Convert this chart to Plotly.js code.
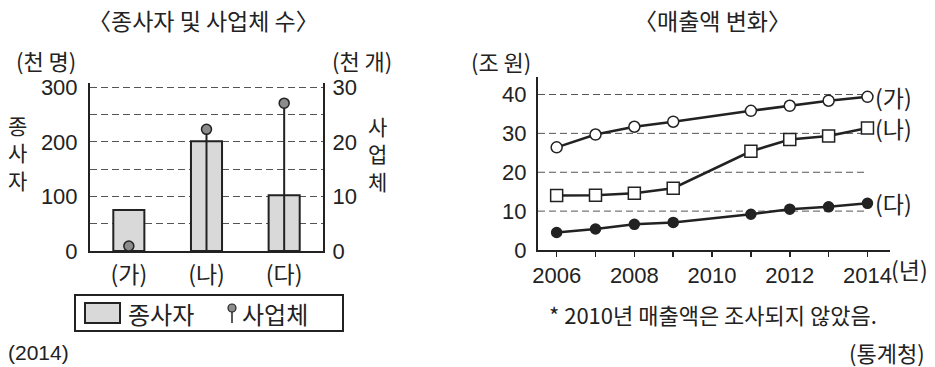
<!DOCTYPE html>
<html>
<head>
<meta charset="utf-8">
<script src="https://cdn.plot.ly/plotly-3.0.1.min.js"></script>
<style>html,body{margin:0;padding:0;background:#fff;}#chart{width:935px;height:367px;}</style>
</head>
<body>
<div id="chart"></div>
<script>
// ---- data ----
const categories = ['(가)', '(나)', '(다)'];
const workers = [75, 201, 102];          // 종사자 (천 명)
const businesses = [0.9, 22.3, 27.1];    // 사업체 (천 개)

const years = [2006, 2007, 2008, 2009, 2011, 2012, 2013, 2014];
const salesGa = [26.4, 29.7, 31.7, 33.0, 35.8, 37.1, 38.4, 39.4];
const salesNa = [14.0, 14.1, 14.6, 15.9, 25.4, 28.4, 29.3, 31.4];
const salesDa = [4.5, 5.4, 6.6, 7.1, 9.2, 10.5, 11.1, 12.0];
const gridValsRight = [10, 20, 30, 40];

// ---- helpers ----
const W = 935, H = 367;
const px = x => x / W;
const py = y => 1 - y / H;
const KFONT = 'Noto Sans CJK KR, sans-serif';
const NFONT = 'Liberation Sans, Arial, Noto Sans CJK KR, sans-serif';
const INK = '#222';
const DASH = '7px,4px';

const traces = [
  {
    type: 'bar', x: categories, y: workers, xaxis: 'x', yaxis: 'y',
    width: 0.4,
    marker: {color: '#d9d9d9', line: {color: INK, width: 2}},
    hoverinfo: 'skip', showlegend: false
  },
  {
    type: 'scatter', mode: 'markers', x: categories, y: businesses, xaxis: 'x', yaxis: 'y2',
    marker: {size: 10, color: '#8c8c8c', line: {color: INK, width: 1.5}},
    error_y: {type: 'data', symmetric: false, array: businesses.map(() => 0),
              arrayminus: businesses, width: 0, thickness: 2, color: INK},
    hoverinfo: 'skip', showlegend: false
  }
];

const seriesDefs = [
  {vals: salesGa, symbol: 'circle', size: 11, fill: '#fff'},
  {vals: salesNa, symbol: 'square', size: 12, fill: '#fff'},
  {vals: salesDa, symbol: 'circle', size: 10, fill: INK}
];
seriesDefs.forEach(s => traces.push({
  type: 'scatter', mode: 'lines+markers', x: years, y: s.vals, xaxis: 'x2', yaxis: 'y3',
  line: {color: INK, width: 2.5},
  marker: {symbol: s.symbol, size: s.size, color: s.fill, line: {color: INK, width: 1.5}},
  hoverinfo: 'skip', showlegend: false
}));

const annotations = [];
const shapes = [];
function txt(text, x, y, size, opts) {
  annotations.push(Object.assign({
    text: text, x: px(x), y: py(y), xref: 'paper', yref: 'paper',
    showarrow: false, font: {family: KFONT, size: size, color: INK},
    xanchor: 'center', yanchor: 'middle'
  }, opts || {}));
}

// titles
txt('〈종사자 및 사업체 수〉', 203, 20, 23);
txt('〈매출액 변화〉', 712, 20, 23);
// unit labels
txt('(천 명)', 46, 60, 22);
txt('(천 개)', 362, 60, 22);
txt('(조 원)', 501, 61, 22);
// vertical axis titles
txt('종<br>사<br>자', 17, 152, 21);
txt('사<br>업<br>체', 377, 153, 21);
// (년)
txt('(년)', 889, 269, 23, {xanchor: 'left'});
// footnote / sources
txt('* 2010년 매출액은 조사되지 않았음.', 547, 314, 22, {xanchor: 'left'});
txt('(2014)', 6, 352, 21, {xanchor: 'left', font: {family: NFONT, size: 21, color: INK}});
txt('(통계청)', 927, 352, 22, {xanchor: 'right'});

// series labels at end of lines
const seriesAnno = [salesGa, salesNa, salesDa];
seriesAnno.forEach((vals, i) => annotations.push({
  text: categories[i], x: years[years.length - 1], y: vals[vals.length - 1],
  xref: 'x2', yref: 'y3', xanchor: 'left', yanchor: 'middle', xshift: 6,
  showarrow: false, font: {family: KFONT, size: 23, color: INK}
}));

// right chart gridlines (from axis to last year)
gridValsRight.forEach(v => shapes.push({
  type: 'line', xref: 'x2', yref: 'y3', x0: 2005.52, x1: years[years.length - 1], y0: v, y1: v,
  line: {color: '#555', width: 1, dash: DASH}, layer: 'below'
}));

// legend box (manual)
shapes.push({type: 'rect', xref: 'paper', yref: 'paper', x0: px(75), x1: px(343), y0: py(331), y1: py(295),
  line: {color: INK, width: 2}, fillcolor: 'rgba(0,0,0,0)'});
shapes.push({type: 'rect', xref: 'paper', yref: 'paper', x0: px(85), x1: px(120), y0: py(323), y1: py(303),
  line: {color: INK, width: 2}, fillcolor: '#d9d9d9'});
txt('종사자', 126, 313, 24, {xanchor: 'left'});
shapes.push({type: 'line', xref: 'paper', yref: 'paper', x0: px(232), x1: px(232), y0: py(323), y1: py(310),
  line: {color: INK, width: 1.5}});
shapes.push({type: 'circle', xref: 'paper', yref: 'paper', x0: px(228), x1: px(236), y0: py(312), y1: py(304),
  line: {color: INK, width: 1.2}, fillcolor: '#8c8c8c'});
txt('사업체', 240, 313, 24, {xanchor: 'left'});

const axisFont = {family: NFONT, size: 22, color: INK};
const layout = {
  width: W, height: H,
  margin: {l: 0, r: 0, t: 0, b: 0},
  paper_bgcolor: '#fff', plot_bgcolor: 'rgba(0,0,0,0)',
  showlegend: false,
  xaxis: {
    domain: [px(90), px(323)], anchor: 'y', type: 'category', range: [-0.5, 2.5],
    showline: true, linecolor: INK, linewidth: 2, ticks: '', showgrid: false,
    tickfont: {family: KFONT, size: 23, color: INK}, fixedrange: true, ticklabelstandoff: 2
  },
  yaxis: {
    domain: [py(251), py(83)], anchor: 'x', range: [0, 308], tick0: 0, dtick: 100,
    showline: true, linecolor: INK, linewidth: 2, ticks: '', zeroline: false,
    showgrid: true, gridcolor: '#555', gridwidth: 1, griddash: DASH,
    minor: {dtick: 50, showgrid: true, gridcolor: '#555', gridwidth: 1, griddash: DASH},
    tickfont: axisFont, ticklabelstandoff: 6
  },
  yaxis2: {
    overlaying: 'y', side: 'right', anchor: 'x', range: [0, 30.8], dtick: 10,
    showline: true, linecolor: INK, linewidth: 2, ticks: '', zeroline: false, showgrid: false,
    tickfont: axisFont, ticklabelstandoff: 3
  },
  xaxis2: {
    domain: [px(538), px(890)], anchor: 'y3', range: [2005.52, 2014.58],
    tick0: 2006, dtick: 2, showline: true, linecolor: INK, linewidth: 2,
    ticks: 'outside', ticklen: 5, tickcolor: INK, tickwidth: 1.5, showgrid: false, zeroline: false,
    minor: {dtick: 1, ticks: 'outside', ticklen: 5, tickcolor: INK, tickwidth: 1.5},
    tickfont: axisFont, ticklabelstandoff: 0
  },
  yaxis3: {
    domain: [py(250), py(77)], anchor: 'x2', range: [0, 44.5], dtick: 10,
    showline: true, linecolor: INK, linewidth: 2, ticks: '', zeroline: false, showgrid: false,
    tickfont: axisFont, ticklabelstandoff: 5
  },
  annotations: annotations,
  shapes: shapes
};

Plotly.newPlot('chart', traces, layout, {staticPlot: true, displayModeBar: false});
</script>
</body>
</html>
